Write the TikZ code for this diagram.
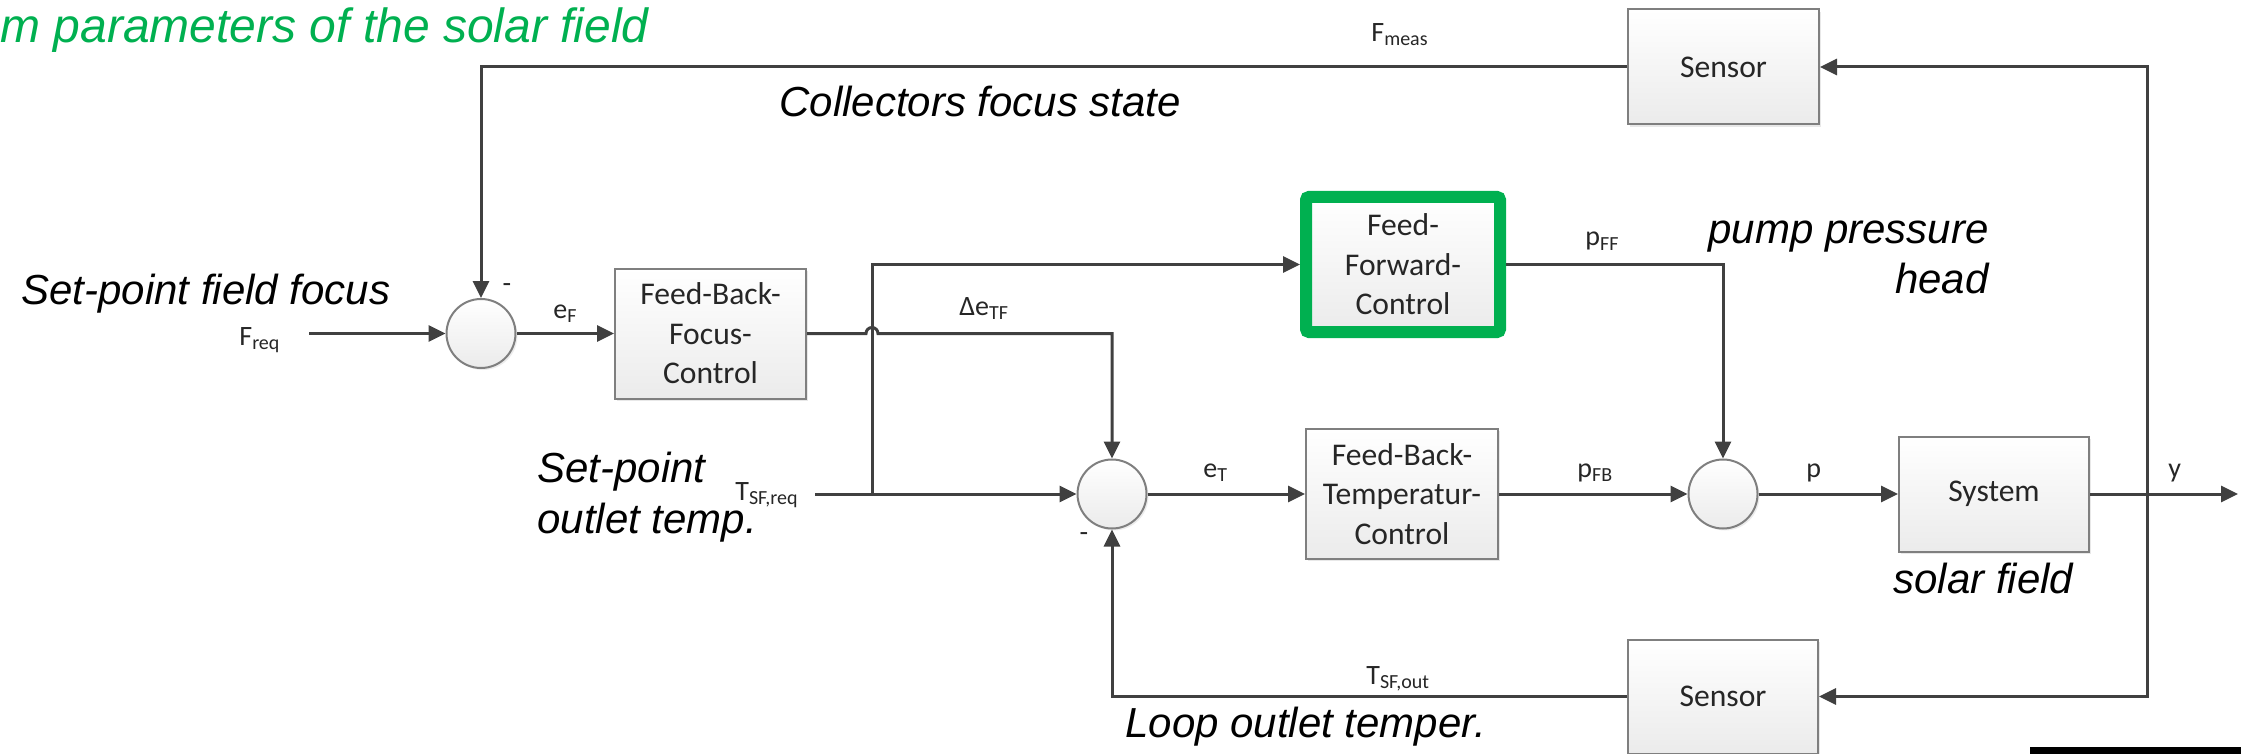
\documentclass[tikz,border=0pt]{standalone}
\usepackage{fontspec}
\setmainfont{Liberation Sans}
\newfontfamily\carl{Carlito}
\usetikzlibrary{arrows.meta,shadows}
\definecolor{ln}{HTML}{404040}
\definecolor{bd}{HTML}{7F7F7F}
\definecolor{grn}{HTML}{00B050}
\definecolor{bfill}{HTML}{EBEBEB}
\definecolor{txt}{HTML}{262626}
\newcommand\sbs[1]{\raisebox{-2pt}{\fontsize{10}{10}\selectfont #1}}
\tikzset{
  wire/.style={draw=ln, line width=1.5pt},
  conn/.style={wire, -{Triangle[length=8.5pt,width=8pt]}},
  blk/.style={draw=bd, line width=1pt, top color=white, bottom color=bfill,
    drop shadow={shadow xshift=1.2pt, shadow yshift=-1.2pt, opacity=0.18},
    font=\carl\fontsize{15.8}{19.8}\selectfont, align=center, inner sep=0pt, text=txt},
  sumc/.style={circle, draw=bd, line width=1pt, top color=white, bottom color=bfill,
    drop shadow={shadow xshift=1pt, shadow yshift=-1pt, opacity=0.15},
    minimum size=34.5pt, inner sep=0pt},
  lbl/.style={font=\carl\fontsize{14}{16}\selectfont, text=txt, inner sep=0pt, anchor=base west},
  note/.style={font=\fontsize{21}{24}\selectfont\itshape, text=black, inner sep=0pt, anchor=base west},
}
\begin{document}
\begin{tikzpicture}[x=0.5pt,y=-0.5pt]
\useasboundingbox (0,0) rectangle (2241,754);

% blocks
\node[blk, minimum width=95.5pt, minimum height=57.5pt] (sensorTop) at (1723.5,67) {Sensor};
\node[blk, minimum width=95.5pt, minimum height=65pt] (fbf) at (710.5,333.5) {Feed-Back-\\Focus-\\Control};
\node[blk, draw=grn, line width=6pt, rounded corners=1.5pt, minimum width=97pt, minimum height=67.5pt] (ff) at (1403,264.5) {Feed-\\Forward-\\Control};
\node[blk, minimum width=96pt, minimum height=65pt] (fbt) at (1402,494) {Feed-Back-\\Temperatur-\\Control};
\node[blk, minimum width=95pt, minimum height=57.5pt] (sys) at (1994,494) {System};
\node[blk, minimum width=95pt, minimum height=57pt] (sensorBot) at (1723,696.5) {Sensor};

% summing junctions
\node[sumc] (c1) at (481,333.5) {};
\node[sumc] (c2) at (1112,494) {};
\node[sumc] (c3) at (1723,494) {};

% helper coordinates
\coordinate (freqS) at (309,333.5);
\coordinate (ctop) at (481,67);
\coordinate (hopL) at (866,333.5);
\coordinate (dtf) at (1112,333.5);
\coordinate (tsfS) at (815,494);
\coordinate (br) at (872,494);
\coordinate (brT) at (872,264.5);
\coordinate (ffR) at (1723,264.5);
\coordinate (yout) at (2238,494);
\coordinate (jn) at (2147,494);
\coordinate (jnT) at (2147,67);
\coordinate (jnB) at (2147,696.5);
\coordinate (cbl) at (1112,696.5);

% connectors
\draw[conn] (freqS) -- (c1);
\draw[conn] (c1) -- (fbf);
\draw[conn] (sensorTop) -- (ctop) -- (c1);
\draw[conn] (fbf.east) -- (hopL) arc[start angle=180, end angle=0, radius=3pt] -- (dtf) -- (c2);
\draw[conn] (tsfS) -- (c2);
\draw[conn] (br) -- (brT) -- (ff);
\draw[conn] (c2) -- (fbt);
\draw[conn] (fbt) -- (c3);
\draw[conn] (ff) -- (ffR) -- (c3);
\draw[conn] (c3) -- (sys);
\draw[conn] (sys) -- (yout);
\draw[conn] (jn) -- (jnT) -- (sensorTop);
\draw[conn] (jn) -- (jnB) -- (sensorBot);
\draw[conn] (sensorBot) -- (cbl) -- (c2);

% signal labels
\node[lbl] (lFreq) at (239,345) {F\sbs{req}};
\node[lbl] (leF) at (553,318) {e\sbs{F}};
\node[lbl] (lFmeas) at (1371,42) {F\sbs{meas}};
\node[lbl] (ldeTF) at (959,315) {Δe\sbs{TF}};
\node[lbl] (lTreq) at (735,500) {T\sbs{SF,req}};
\node[lbl] (leT) at (1203,477) {e\sbs{T}};
\node[lbl] (lpFB) at (1577,477) {p\sbs{FB}};
\node[lbl] (lpFF) at (1585,246) {p\sbs{FF}};
\node[lbl] (lp) at (1806,477) {p};
\node[lbl] (ly) at (2168,477) {y};
\node[lbl] (lTout) at (1366,684) {T\sbs{SF,out}};
\node[lbl, anchor=center] (m1) at (507,288) {-};
\node[lbl, anchor=center] (m2) at (1084,537) {-};

% annotations
\node[note, text=grn, font=\fontsize{24}{28}\selectfont\itshape] (n1) at (0,43) {m parameters of the solar field};
\node[note] (n2) at (21,304) {Set-point field focus};
\node[note] (n3) at (779,117) {Collectors focus state};
\node[note, anchor=base east] (n4) at (1989,243) {pump pressure};
\node[note, anchor=base east] (n5) at (1989,293) {head};
\node[note] (n6) at (537,482) {Set-point};
\node[note] (n7) at (537,533) {outlet temp.};
\node[note] (n8) at (1893,593) {solar field};
\node[note] (n9) at (1125,737) {Loop outlet temper.};

% black bar at bottom right
\fill[black] (2030,747) rectangle (2241,754);
\end{tikzpicture}
\end{document}
